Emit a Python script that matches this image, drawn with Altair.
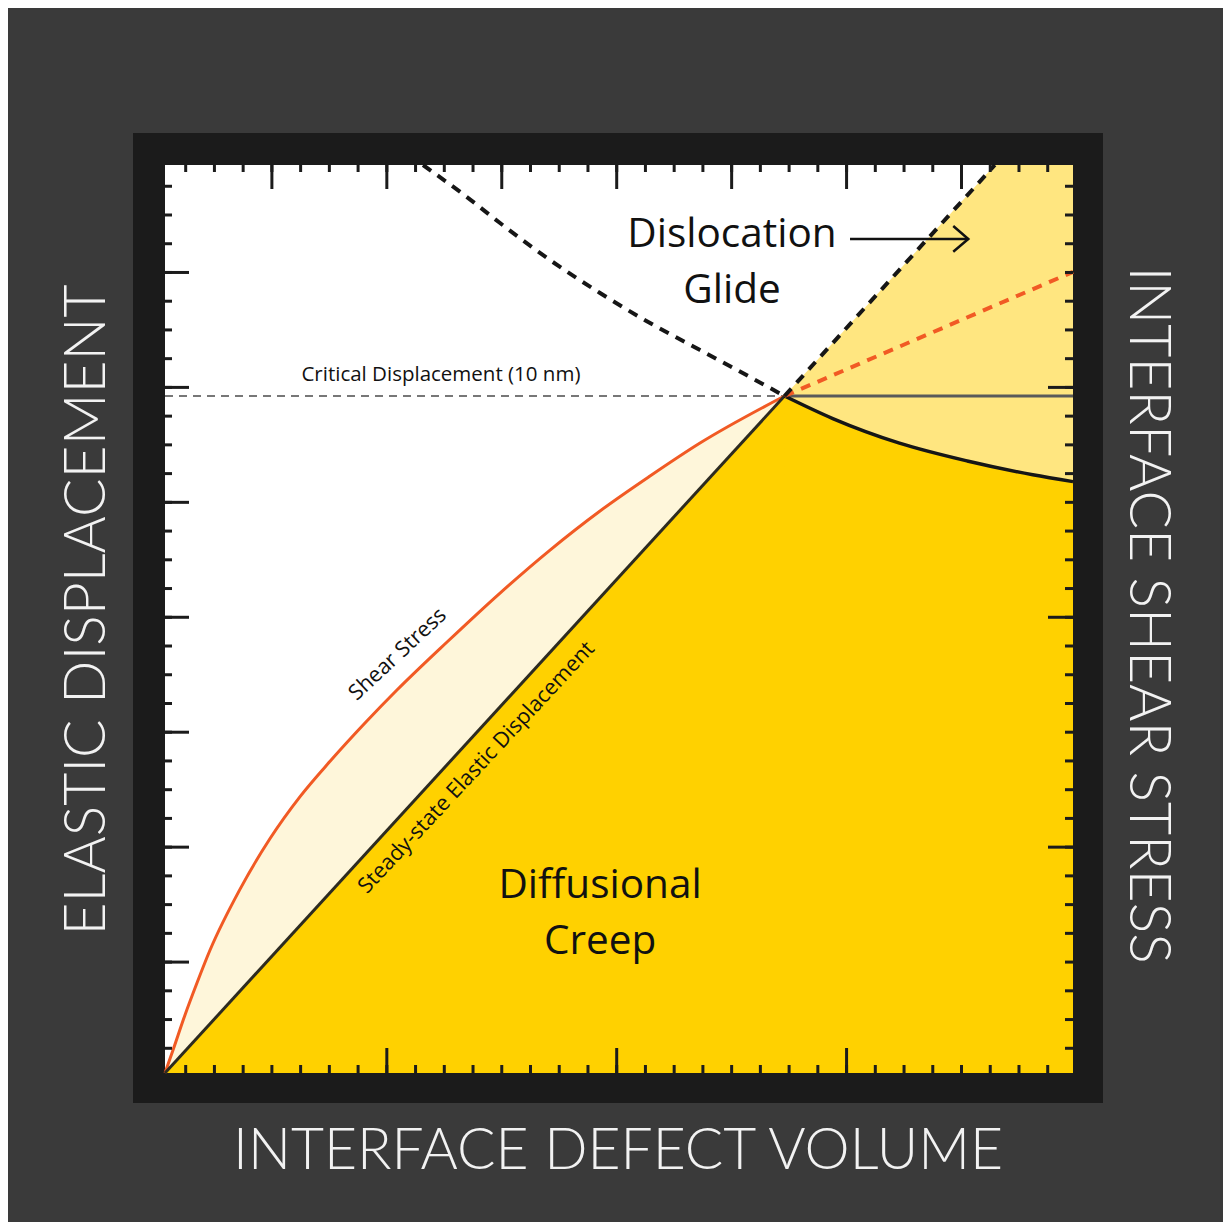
import altair as alt
import pandas as pd

# ---------------- data (arbitrary units; x = interface defect volume, y = elastic displacement) ----
X_MAX = 7.9
Y_MAX = 7.9

shear_x = [0, 0.070, 0.174, 0.278, 0.392, 0.653, 0.914, 1.175, 1.436, 1.740, 2.018, 2.454,
           2.915, 3.350, 3.785, 4.220, 4.655, 5.39]
shear_y = [0, 0.200, 0.505, 0.783, 1.070, 1.600, 2.040, 2.405, 2.712, 3.045, 3.332, 3.750,
           4.176, 4.550, 4.890, 5.194, 5.481, 5.89]

steady_x = [0, 5.39]
steady_y = [0, 5.89]

creep_x = [5.39, 5.81, 6.39, 6.98, 7.55, 7.9]
creep_y = [5.89, 5.694, 5.480, 5.325, 5.205, 5.145]

glide_bound_x = [2.245, 2.627, 2.915, 3.350, 3.785, 4.220, 4.655, 5.090, 5.39]
glide_bound_y = [7.9, 7.621, 7.395, 7.073, 6.786, 6.525, 6.290, 6.055, 5.89]

glide_onset_x = [5.39, 7.22, 7.9]
glide_onset_y = [5.89, 7.9, 7.9]

stress_ext_x = [5.39, 7.9]
stress_ext_y = [5.89, 6.97]

critical_x = [0, 5.39]
critical_x_right = [5.39, 7.9]
critical_y = 5.89

arrow_x = [5.96, 6.989]
arrow_y = [7.256, 7.256]
head_x = [6.858, 6.989, 6.858]
head_y = [7.369, 7.256, 7.145]

tick_x = [round(0.18 + 0.25 * k, 4) for k in range(31)]
tick_y = [round(0.215 + 0.25 * k, 4) for k in range(31)]
major_dense = [3, 7, 11, 15, 19, 23, 27]
major_sparse = [7, 15, 23]

region_labels = ["Dislocation", "Glide", "Diffusional", "Creep"]
region_x = [4.933, 4.933, 3.785, 3.785]
region_y = [7.291, 6.803, 1.627, 1.140]

# ---------------- colours ----------------
BG = "#3a3a3a"
FRAME = "#1b1b1b"
YELLOW = "#FFD100"
LIGHT_YELLOW = "#FFE680"
CREAM = "#FEF6DA"
ORANGE = "#F15A24"
INK = "#111111"
TITLE = "#F2F2F2"
FONT = "Open Sans"
TFONT = "Lato"

xs = alt.Scale(domain=[0, X_MAX], nice=False, zero=False)
ys = alt.Scale(domain=[0, Y_MAX], nice=False, zero=False)


def X(f="x"):
    return alt.X(f"{f}:Q", scale=xs, axis=None)


def Y(f="y"):
    return alt.Y(f"{f}:Q", scale=ys, axis=None)


one = pd.DataFrame({"a": [0]})

frame = alt.Chart(one).mark_rect(color=FRAME).encode(
    x=alt.value(-32), x2=alt.value(938), y=alt.value(-32), y2=alt.value(938))
plotbg = alt.Chart(one).mark_rect(color="white").encode(
    x=alt.value(0), x2=alt.value(908), y=alt.value(0), y2=alt.value(908))

glide_area = alt.Chart(pd.DataFrame({"x": glide_onset_x, "y": glide_onset_y})).mark_area(
    color=LIGHT_YELLOW, opacity=1).encode(x=X(), y=Y(), y2=alt.datum(0))
cream_area = alt.Chart(pd.DataFrame({"x": shear_x, "y": shear_y})).mark_area(
    color=CREAM, opacity=1, interpolate="monotone").encode(x=X(), y=Y(), y2=alt.datum(0))
creep_area = alt.Chart(pd.DataFrame({"x": steady_x[:1] + creep_x, "y": steady_y[:1] + creep_y})).mark_area(
    color=YELLOW, opacity=1).encode(x=X(), y=Y(), y2=alt.datum(0))
creep_area_curve = alt.Chart(pd.DataFrame({"x": creep_x, "y": creep_y})).mark_area(
    color=YELLOW, opacity=1, interpolate="monotone").encode(x=X(), y=Y(), y2=alt.datum(0))

crit_dash = alt.Chart(pd.DataFrame({"x": critical_x, "y": [critical_y] * 2})).mark_line(
    color="#777777", strokeWidth=2, strokeDash=[8, 6]).encode(x=X(), y=Y())
crit_solid = alt.Chart(pd.DataFrame({"x": critical_x_right, "y": [critical_y] * 2})).mark_line(
    color="#5a5a5a", strokeWidth=3).encode(x=X(), y=Y())

shear_line = alt.Chart(pd.DataFrame({"x": shear_x, "y": shear_y})).mark_line(
    color=ORANGE, strokeWidth=3, interpolate="monotone").encode(x=X(), y=Y())
steady_line = alt.Chart(pd.DataFrame({"x": steady_x, "y": steady_y})).mark_line(
    color="#2d2b20", strokeWidth=3).encode(x=X(), y=Y())
creep_line = alt.Chart(pd.DataFrame({"x": creep_x, "y": creep_y})).mark_line(
    color="#161616", strokeWidth=3.5, interpolate="monotone").encode(x=X(), y=Y())
ext_line = alt.Chart(pd.DataFrame({"x": stress_ext_x, "y": stress_ext_y})).mark_line(
    color=ORANGE, strokeWidth=4, strokeDash=[10, 8]).encode(x=X(), y=Y())
onset_line = alt.Chart(pd.DataFrame({"x": glide_onset_x[:2], "y": glide_onset_y[:2]})).mark_line(
    color="#161616", strokeWidth=4, strokeDash=[10, 8]).encode(x=X(), y=Y())
bound_line = alt.Chart(pd.DataFrame({"x": glide_bound_x, "y": glide_bound_y})).mark_line(
    color="#161616", strokeWidth=4, strokeDash=[10, 8], interpolate="monotone").encode(x=X(), y=Y())

# ticks
TW = 3
tx_minor = pd.DataFrame({"x": tick_x})
ty_minor = pd.DataFrame({"y": tick_y})
tx_dense = pd.DataFrame({"x": [tick_x[k] for k in major_dense]})
ty_dense = pd.DataFrame({"y": [tick_y[k] for k in major_dense]})
tx_sparse = pd.DataFrame({"x": [tick_x[k] for k in major_sparse]})
ty_sparse = pd.DataFrame({"y": [tick_y[k] for k in major_sparse]})

ticks = [
    alt.Chart(tx_minor).mark_rule(color=FRAME, strokeWidth=TW).encode(x=X(), y=alt.value(0), y2=alt.value(7)),
    alt.Chart(tx_dense).mark_rule(color=FRAME, strokeWidth=TW).encode(x=X(), y=alt.value(0), y2=alt.value(24)),
    alt.Chart(tx_minor).mark_rule(color=FRAME, strokeWidth=TW).encode(x=X(), y=alt.value(908), y2=alt.value(900)),
    alt.Chart(tx_sparse).mark_rule(color=FRAME, strokeWidth=TW).encode(x=X(), y=alt.value(908), y2=alt.value(883)),
    alt.Chart(ty_minor).mark_rule(color=FRAME, strokeWidth=TW).encode(y=Y(), x=alt.value(0), x2=alt.value(7)),
    alt.Chart(ty_dense).mark_rule(color=FRAME, strokeWidth=TW).encode(y=Y(), x=alt.value(0), x2=alt.value(24)),
    alt.Chart(ty_minor).mark_rule(color=FRAME, strokeWidth=TW).encode(y=Y(), x=alt.value(908), x2=alt.value(900)),
    alt.Chart(ty_sparse).mark_rule(color=FRAME, strokeWidth=TW).encode(y=Y(), x=alt.value(908), x2=alt.value(883)),
]

# arrow
shaft = alt.Chart(pd.DataFrame({"x": arrow_x, "y": arrow_y})).mark_line(
    color=INK, strokeWidth=2.5).encode(x=X(), y=Y())
head = alt.Chart(pd.DataFrame({"x": head_x, "y": head_y, "i": [0, 1, 2]})).mark_line(
    color=INK, strokeWidth=2.5, strokeJoin="miter").encode(x=X(), y=Y(), order="i:Q")

# texts
regions = alt.Chart(pd.DataFrame({"x": region_x, "y": region_y, "t": region_labels})).mark_text(
    font=FONT, fontSize=40.5, color=INK, align="center", baseline="middle", fontWeight=500).encode(
    x=X(), y=Y(), text="t:N")

crit_text = alt.Chart(pd.DataFrame({"x": [2.401], "y": [6.073], "t": ["Critical Displacement (10 nm)"]})).mark_text(
    font=FONT, fontSize=20.5, color=INK, align="center", baseline="middle").encode(x=X(), y=Y(), text="t:N")
shear_text = alt.Chart(pd.DataFrame({"x": [2.028], "y": [3.640], "t": ["Shear Stress"]})).mark_text(
    font=FONT, fontSize=21.5, color=INK, align="center", baseline="middle", angle=317).encode(x=X(), y=Y(), text="t:N")
steady_text = alt.Chart(pd.DataFrame({"x": [2.714], "y": [2.654], "t": ["Steady-state Elastic Displacement"]})).mark_text(
    font=FONT, fontSize=21.5, color=INK, align="center", baseline="middle", angle=313).encode(x=X(), y=Y(), text="t:N")

left_title = alt.Chart(pd.DataFrame({"t": ["ELASTIC DISPLACEMENT"]})).mark_text(
    font=TFONT, fontSize=57, fontWeight=300, color=TITLE, align="center", baseline="middle", angle=270).encode(
    x=alt.value(-77), y=alt.value(445), text="t:N")
right_title = alt.Chart(pd.DataFrame({"t": ["INTERFACE SHEAR STRESS"]})).mark_text(
    font=TFONT, fontSize=57, fontWeight=300, color=TITLE, align="center", baseline="middle", angle=90).encode(
    x=alt.value(982), y=alt.value(450), text="t:N")
bottom_title = alt.Chart(pd.DataFrame({"t": ["INTERFACE DEFECT VOLUME"]})).mark_text(
    font=TFONT, fontSize=57, fontWeight=300, color=TITLE, align="center", baseline="middle").encode(
    x=alt.value(453), y=alt.value(987), text="t:N")

chart = alt.layer(
    frame, plotbg, glide_area, cream_area, creep_area, creep_area_curve,
    crit_dash, crit_solid, shear_line, steady_line, creep_line, ext_line, onset_line, bound_line,
    *ticks, shaft, head, regions, crit_text, shear_text, steady_text,
    left_title, right_title, bottom_title,
).properties(
    width=908, height=908,
    background=BG,
    padding={"left": 157, "top": 157, "right": 150, "bottom": 149},
    autosize=alt.AutoSizeParams(type="none"),
).configure_view(stroke=None)

chart.save("out.html", embed_options={"renderer": "svg", "actions": False})
